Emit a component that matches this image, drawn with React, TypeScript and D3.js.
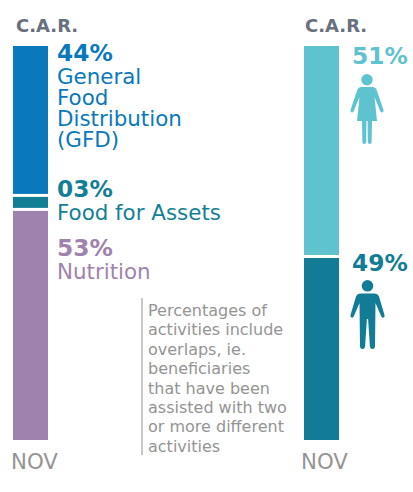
import React from "react";
import * as d3 from "d3";

const FONT = "'DejaVu Sans', Verdana, sans-serif";

const activityLabels = ["44%", "03%", "53%"];
const activityNames = [["General", "Food", "Distribution", "(GFD)"], ["Food for Assets"], ["Nutrition"]];
// Drawn bar heights (the original bar is not proportional to its labels)
const activityHeights = [38.3, 3.55, 58.15];
const activityColors = ["#0a78bd", "#127f96", "#9f82ad"];

const genderLabels = ["51%", "49%"];
const genderHeights = [53.8, 46.2];
const genderColors = ["#5fc2cf", "#127c96"];

const regionLabel = "C.A.R.";
const monthLabel = "NOV";
const noteLines = [
  "Percentages of",
  "activities include",
  "overlaps, ie.",
  "beneficiaries",
  "that have been",
  "assisted with two",
  "or more different",
  "activities",
];

const y = d3.scaleLinear().domain([0, 100]).range([46, 440]);
const GAP = 3;

function stackSegments(values: number[]) {
  let acc = 0;
  return values.map((v, i) => {
    const s = { y0: y(acc), y1: y(acc + v) - (i < values.length - 1 ? GAP : 0) };
    acc += v;
    return s;
  });
}

function Woman({ x, y: top, fill }: { x: number; y: number; fill: string }) {
  return (
    <g transform={`translate(${x},${top})`} fill={fill} stroke="none">
      <circle cx={0} cy={5.7} r={5.7} />
      <path d="M-6,13 L6,13 Q8.5,13 9.5,15.5 L16.5,36 Q17,38 15,38.5 Q14,38.5 13.2,37 L7.5,23 L10,47 L-10,47 L-7.5,23 L-13.2,37 Q-14,38.5 -15,38.5 Q-17,38 -16.5,36 L-9.5,15.5 Q-8.5,13 -6,13 Z" />
      <path d="M-5,47 L-0.6,47 L-0.8,68 Q-1,70 -3,70 Q-4.6,70 -4.6,68 Z" />
      <path d="M5,47 L0.6,47 L0.8,68 Q1,70 3,70 Q4.6,70 4.6,68 Z" />
    </g>
  );
}

function Man({ x, y: top, fill }: { x: number; y: number; fill: string }) {
  return (
    <g transform={`translate(${x},${top})`} fill={fill} stroke="none">
      <circle cx={0} cy={5.8} r={5.8} />
      <path d="M-7,13.5 L7,13.5 Q10,13.5 11.5,16.5 L17,35 Q17.5,37 16,37.5 Q14.5,38 13.8,36.5 L8,23 L7.5,66.5 Q7.3,69 5,69 Q2.6,69 2.4,66.5 L0.6,39 L-0.6,39 L-2.4,66.5 Q-2.6,69 -5,69 Q-7.3,69 -7.5,66.5 L-8,23 L-13.8,36.5 Q-14.5,38 -16,37.5 Q-17.5,37 -17,35 L-11.5,16.5 Q-10,13.5 -7,13.5 Z" />
    </g>
  );
}

export default function App() {
  const activity = stackSegments(activityHeights);
  const gender = stackSegments(genderHeights);
  return (
    <svg
      width={413}
      height={492}
      style={{ position: "absolute", left: 0, top: 0, background: "#fff" }}
      fontFamily={FONT}
    >
      <text x={16} y={32} fontSize={18} fontWeight={700} fill="#68707d">{regionLabel}</text>
      <text x={305} y={32} fontSize={18} fontWeight={700} fill="#68707d">{regionLabel}</text>

      {activity.map((s, i) => (
        <rect key={i} x={13} y={s.y0} width={35} height={s.y1 - s.y0} fill={activityColors[i]} />
      ))}
      {gender.map((s, i) => (
        <rect key={i} x={304} y={s.y0} width={35} height={s.y1 - s.y0} fill={genderColors[i]} />
      ))}

      {[
        { pctY: 61, nameY: 84 },
        { pctY: 197, nameY: 220 },
        { pctY: 256, nameY: 279 },
      ].map((p, i) => (
        <g key={i} fill={activityColors[i]}>
          <text x={57} y={p.pctY} fontSize={23.3} fontWeight={700}>{activityLabels[i]}</text>
          {activityNames[i].map((n, j) => (
            <text key={j} x={57} y={p.nameY + j * 21} fontSize={21.4}>{n}</text>
          ))}
        </g>
      ))}

      <text x={352} y={64} fontSize={23.3} fontWeight={700} fill={genderColors[0]}>{genderLabels[0]}</text>
      <text x={352} y={271} fontSize={23.3} fontWeight={700} fill={genderColors[1]}>{genderLabels[1]}</text>
      <Woman x={367} y={74} fill={genderColors[0]} />
      <Man x={367.5} y={280} fill={genderColors[1]} />

      <line x1={142} x2={142} y1={298} y2={455} stroke="#b5b5b5" strokeWidth={1.5} />
      {noteLines.map((l, i) => (
        <text key={i} x={148} y={316 + i * 19.4} fontSize={16} fill="#949494">{l}</text>
      ))}

      <text x={11} y={469} fontSize={21.3} fill="#949494">{monthLabel}</text>
      <text x={301} y={469} fontSize={21.3} fill="#949494">{monthLabel}</text>
    </svg>
  );
}
